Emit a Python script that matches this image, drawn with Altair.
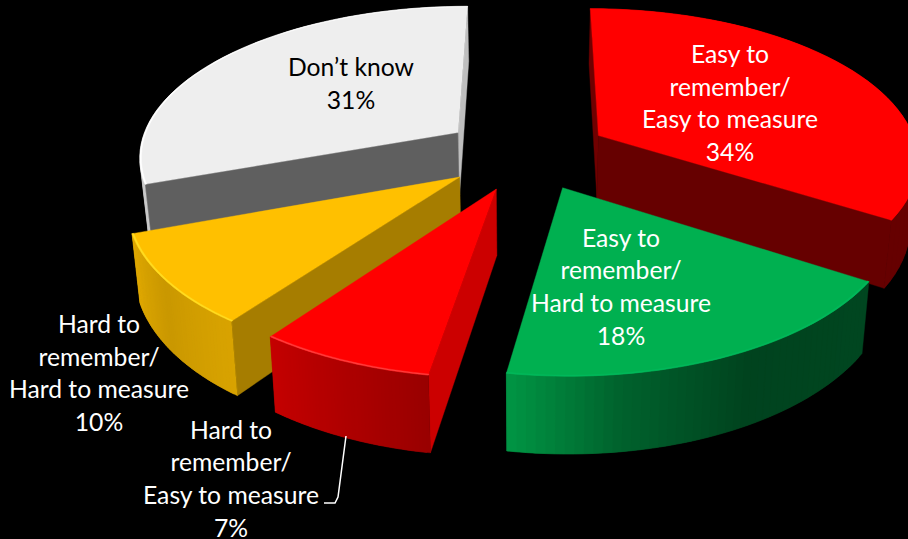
import math
import altair as alt
import numpy as np

# Chart content
categories = [
    "Easy to measure / Easy to remember",
    "Hard to measure / Easy to remember",
    "Easy to measure / Hard to remember",
    "Hard to measure / Hard to remember",
    "Don't know",
]
shares = [34, 18, 7, 10, 31]
label_lines = [
    "Easy to\nremember/\nEasy to measure\n34%",
    "Easy to\nremember/\nHard to measure\n18%",
    "Hard to\nremember/\nEasy to measure\n7%",
    "Hard to\nremember/\nHard to measure\n10%",
    "Don\u2019t know\n31%",
]

# Slice appearance
top_colors = [(255, 0, 0), (0, 176, 80), (255, 0, 0), (255, 192, 0), (238, 238, 238)]
bevel_colors = ["#ff0000", "#00b85a", "#ff3c3c", "#ffdc20", "#ffffff"]
rim_shades = [
    ([0, 1], [0.40, 0.40]),
    ([0, 0.45, 0.75, 1], [0.40, 0.38, 0.55, 0.85]),
    ([0, 1], [0.60, 0.77]),
    ([0, 0.5, 1], [0.85, 0.79, 0.88]),
    ([0, 1], [0.85, 0.85]),
]
start_face_shade = [0.44, 0.30, 0.80, 0.65, 0.40]
end_face_shade = [0.40, 0.30, 0.60, 0.65, 0.80]
text_colors = ["white", "white", "white", "white", "black"]

# Camera set-up for the tilted, exploded pie
CX, CY = 526.0, 153.0
SCALE_X, SCALE_Y = 320.0, 150.0
PERSPECTIVE = 0.145
EXPLODE_U, EXPLODE_V = 0.262, 0.247
START_ANGLE = 0.2
THICKNESS = 64.0
BOTTOM_SHRINK = 0.98
TWIST_PEAK, TWIST_AT, TWIST_SPREAD = 3.5, 215.0, 35.0
BEVEL = 0.995

# Label anchors on the 908x539 canvas (first text line), and the callout line
label_x = [730, 621, 231, 99, 351]
label_y = [56, 239.5, 431.5, 326, 69]
leader_x = [346, 338, 335, 324]
leader_y = [436, 497, 503, 503]


def top_point(u, v):
    w = 1 + PERSPECTIVE * v
    return CX + SCALE_X * u / w, CY - SCALE_Y * v / w


def bottom_point(u, v):
    w = 1 + PERSPECTIVE * v
    x, y = top_point(u, v)
    return CX + (x - CX) * BOTTOM_SHRINK, y + THICKNESS / w


def twist(theta):
    return theta + TWIST_PEAK * math.exp(-(((theta - TWIST_AT) / TWIST_SPREAD) ** 2))


def cross(a, b, c):
    return (b[0] - a[0]) * (c[1] - a[1]) - (b[1] - a[1]) * (c[0] - a[0])


def polygon(points, fill):
    ring = [[round(x, 2), round(y, 2)] for x, y in points]
    ring.append(ring[0])
    return {
        "type": "Feature",
        "geometry": {"type": "Polygon", "coordinates": [ring]},
        "properties": {"fill": fill},
    }


def shaded(rgb, factor):
    return "#%02x%02x%02x" % tuple(int(round(c * factor)) for c in rgb)


def slice_features(i, start, sweep):
    mid = math.radians(start + sweep / 2)
    ox, oy = EXPLODE_U * math.sin(mid), EXPLODE_V * math.cos(mid)
    angles = [twist(t) for t in np.linspace(start, start + sweep, 49)]
    rim = [(ox + math.sin(math.radians(t)), oy + math.cos(math.radians(t))) for t in angles]
    inner = [(ox + BEVEL * math.sin(math.radians(t)), oy + BEVEL * math.cos(math.radians(t))) for t in angles]

    apex_top = top_point(ox, oy)
    apex_bottom = bottom_point(ox, oy)
    rim_top = [top_point(*p) for p in rim]
    rim_bottom = [bottom_point(*p) for p in rim]
    feats = []

    # radial faces, kept only when they turn towards the viewer
    faces = [(0, -1, start_face_shade[i]), (-1, 0, end_face_shade[i])]
    for idx, other, shade in faces:
        edge_end = rim_top[idx]
        drop = cross(apex_top, edge_end, apex_bottom)
        across = cross(apex_top, edge_end, rim_top[other])
        if drop * across < 0:
            feats.append(polygon([apex_top, edge_end, rim_bottom[idx], apex_bottom],
                                 shaded(top_colors[i], shade)))

    # outer wall: each strip runs under the next one so no seams show between them
    stops, values = rim_shades[i]
    count = len(rim) - 1
    for k in range(count):
        a, b = rim_top[k], rim_top[k + 1]
        if cross(a, b, rim_bottom[k]) * cross(a, b, apex_top) < 0:
            level = float(np.interp((k + 0.5) / count, stops, values))
            j = min(k + 2, count)
            span_top = rim_top[k:j + 1]
            span_bottom = rim_bottom[k:j + 1]
            feats.append(polygon(span_top + span_bottom[::-1], shaded(top_colors[i], level)))

    # top surface and its bevelled edge
    feats.append(polygon([apex_top] + rim_top, shaded(top_colors[i], 1.0)))
    inner_top = [top_point(*p) for p in inner]
    feats.append(polygon(rim_top + inner_top[::-1], bevel_colors[i]))
    return feats


features = []
cursor = START_ANGLE
slices = []
for i, share in enumerate(shares):
    sweep = share * 3.6
    slices.append(slice_features(i, cursor, sweep))
    cursor += sweep

# back slices first: large red, grey, amber, small red, green
for i in [0, 4, 3, 2, 1]:
    features.extend(slices[i])

pie = (
    alt.Chart(alt.Data(values=features))
    .mark_geoshape(strokeWidth=0.4)
    .encode(
        fill=alt.Fill("properties.fill:N", scale=None),
        stroke=alt.Stroke("properties.fill:N", scale=None),
    )
    .project(type="identity", scale=1, translate=[0, 0])
)

x_scale = alt.Scale(domain=[0, 908], range=[0, 908])
y_scale = alt.Scale(domain=[0, 539], range=[0, 539])

leader = (
    alt.Chart(alt.Data(values=[{"x": a, "y": b, "n": n} for n, (a, b) in enumerate(zip(leader_x, leader_y))]))
    .mark_line(color="white", strokeWidth=1.5)
    .encode(
        x=alt.X("x:Q", scale=x_scale, axis=None),
        y=alt.Y("y:Q", scale=y_scale, axis=None),
        order="n:Q",
    )
)

labels = (
    alt.Chart(alt.Data(values=[
        {"name": c, "text": t, "x": a, "y": b, "color": col}
        for c, t, a, b, col in zip(categories, label_lines, label_x, label_y, text_colors)
    ]))
    .mark_text(font="Lato", fontSize=24.7, lineBreak="\n", lineHeight=32.7, align="center", baseline="middle")
    .encode(
        x=alt.X("x:Q", scale=x_scale, axis=None),
        y=alt.Y("y:Q", scale=y_scale, axis=None),
        text="text:N",
        color=alt.Color("color:N", scale=None),
    )
)

chart = (
    alt.layer(pie, leader, labels)
    .resolve_scale(x="shared", y="shared")
    .properties(width=908, height=539, background="black", padding=0, autosize=alt.AutoSizeParams(type="none"))
    .configure_view(stroke=None)
)

chart.save("out.html", embed_options={"renderer": "svg", "actions": False})
